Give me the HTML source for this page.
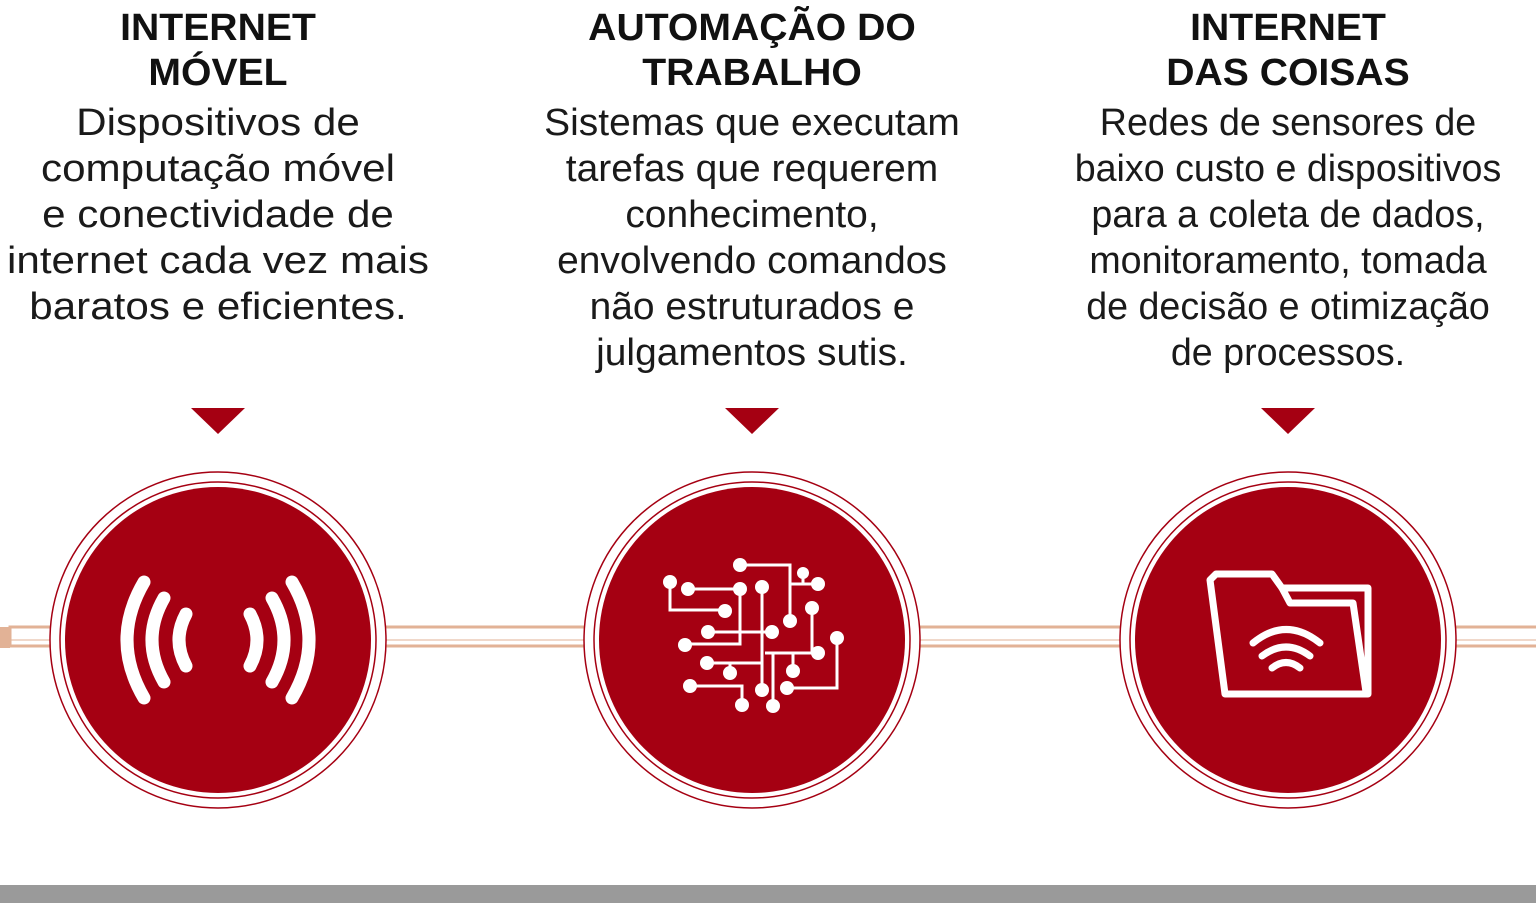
<!DOCTYPE html>
<html><head><meta charset="utf-8"><style>
html,body{margin:0;padding:0;background:#fff;width:1536px;height:903px;overflow:hidden;position:relative}
.col{position:absolute;top:6px;width:560px;text-align:center;color:#111;font-family:"Liberation Sans",sans-serif}
.t{font-weight:bold;font-size:38px;line-height:45px;transform:scaleX(1.03);letter-spacing:0}
.b{font-size:38px;line-height:46px;transform:scaleX(1.1);margin-top:4px;color:#1a1a1a}
</style></head><body>
<div class="col" style="left:-62px"><div class="t">INTERNET<br>MÓVEL</div><div class="b" style="transform:scaleX(1.11)">Dispositivos de<br>computação móvel<br>e conectividade de<br>internet cada vez mais<br>baratos e eficientes.</div></div>
<div class="col" style="left:472px"><div class="t">AUTOMAÇÃO DO<br>TRABALHO</div><div class="b" style="transform:scaleX(1.025)">Sistemas que executam<br>tarefas que requerem<br>conhecimento,<br>envolvendo comandos<br>não estruturados e<br>julgamentos sutis.</div></div>
<div class="col" style="left:1008px"><div class="t">INTERNET<br>DAS COISAS</div><div class="b" style="transform:scaleX(0.99)">Redes de sensores de<br>baixo custo e dispositivos<br>para a coleta de dados,<br>monitoramento, tomada<br>de decisão e otimização<br>de processos.</div></div>
<svg width="1536" height="903" style="position:absolute;left:0;top:0">
<g fill="#a50012"><polygon points="191,408 245,408 218,434"/><polygon points="725,408 779,408 752,434"/><polygon points="1261,408 1315,408 1288,434"/></g>
<rect x="0" y="627" width="10" height="21" fill="#e2b296"/>
<rect x="10" y="627" width="1530" height="19" fill="none" stroke="#e2b296" stroke-width="3"/>
<line x1="10" y1="640" x2="1536" y2="640" stroke="#e2b296" stroke-width="1"/>
<g fill="#fff" stroke="#a50012" stroke-width="1.5">
<circle cx="218" cy="640" r="168"/><circle cx="218" cy="640" r="158"/>
<circle cx="752" cy="640" r="168"/><circle cx="752" cy="640" r="158"/>
<circle cx="1288" cy="640" r="168"/><circle cx="1288" cy="640" r="158"/>
</g>
<g fill="#a50012"><circle cx="218" cy="640" r="153"/><circle cx="752" cy="640" r="153"/><circle cx="1288" cy="640" r="153"/></g>
<g fill="none" stroke="#fff" stroke-width="13" stroke-linecap="round">
<path d="M186,614 Q172,640 186,666"/><path d="M164,598 Q140,640 164,682"/><path d="M144,582 Q110,640 144,698"/>
<path d="M250,614 Q264,640 250,666"/><path d="M272,598 Q296,640 272,682"/><path d="M292,582 Q326,640 292,698"/>
</g>
<g stroke="#fff" stroke-width="3" fill="none">
<polyline points="670,582 670,610 725,610"/><polyline points="688,589 740,589 740,644 685,644"/>
<polyline points="740,565 790,565 790,621"/><polyline points="790,584 818,584"/><line x1="803" y1="573" x2="803" y2="584"/>
<line x1="762" y1="587" x2="762" y2="690"/><line x1="708" y1="632" x2="772" y2="632"/>
<polyline points="812,608 812,653 765,653"/><line x1="773" y1="653" x2="773" y2="706"/><line x1="793" y1="653" x2="793" y2="671"/>
<line x1="707" y1="663" x2="762" y2="663"/><line x1="730" y1="663" x2="730" y2="673"/>
<polyline points="690,686 742,686 742,705"/><polyline points="837,638 837,688 787,688"/>
</g>
<g fill="#fff">
<circle cx="670" cy="582" r="7"/><circle cx="688" cy="589" r="7"/><circle cx="740" cy="589" r="7"/><circle cx="762" cy="587" r="7"/><circle cx="740" cy="565" r="7"/><circle cx="803" cy="573" r="6"/><circle cx="818" cy="584" r="7"/><circle cx="790" cy="621" r="7"/><circle cx="812" cy="608" r="7"/><circle cx="725" cy="611" r="7"/><circle cx="708" cy="632" r="7"/><circle cx="772" cy="632" r="7"/><circle cx="685" cy="645" r="7"/><circle cx="837" cy="638" r="7"/><circle cx="818" cy="653" r="7"/><circle cx="707" cy="663" r="7"/><circle cx="730" cy="673" r="7"/><circle cx="793" cy="671" r="7"/><circle cx="690" cy="686" r="7"/><circle cx="762" cy="690" r="7"/><circle cx="787" cy="688" r="7"/><circle cx="742" cy="705" r="7"/><circle cx="773" cy="706" r="7"/>
</g>
<g fill="none" stroke="#fff" stroke-width="7" stroke-linejoin="round" stroke-linecap="round">
<path d="M1210,580 L1216,574 L1272,574 L1282,588 L1368,588 L1368,694 L1225,694 L1210,580 Z"/>
<path d="M1282,588 L1290,603 L1353,603 L1366,692"/>
<path d="M1253,643 Q1286,616 1320,643"/><path d="M1262,656 Q1286,638 1310,656"/><path d="M1272,668 Q1286,657 1300,668"/>
</g>
<rect x="0" y="885" width="1536" height="18" fill="#9a9a9a"/>
</svg>
</body></html>
